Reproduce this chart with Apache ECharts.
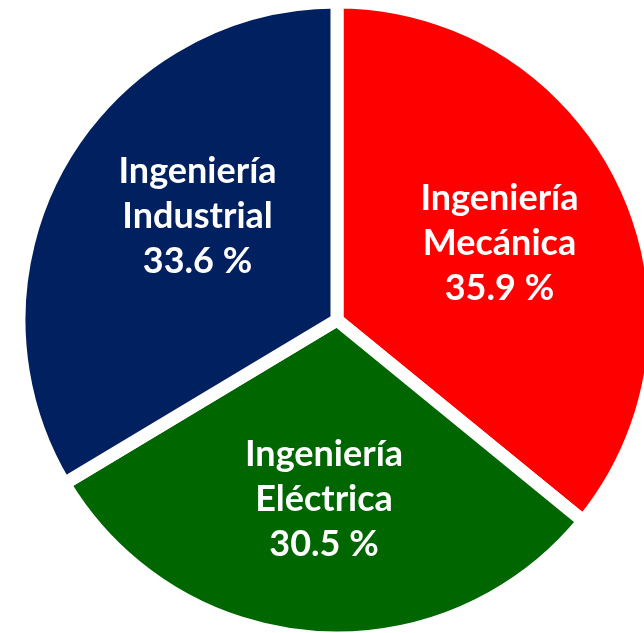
<!DOCTYPE html>
<html>
<head>
<meta charset="utf-8">
<script src="https://cdn.jsdelivr.net/npm/echarts@6/dist/echarts.min.js"></script>
<style>
html,body{margin:0;padding:0;background:#fff;}
#c{width:644px;height:633px;}
</style>
</head>
<body>
<div id="c"></div>
<script>
const categories = ['Ingeniería\nMecánica', 'Ingeniería\nEléctrica', 'Ingeniería\nIndustrial'];
const values = [35.9, 30.5, 33.6];
const colors = ['#FF0000', '#006600', '#002060'];

const CX = 337, CY = 320, R = 318, K = 1.11;

const chart = echarts.init(document.getElementById('c'), null, {renderer: 'canvas'});
chart.setOption({
  backgroundColor: '#ffffff',
  animation: false,
  series: [{
    type: 'pie',
    center: [CX, CY],
    radius: [0, R],
    startAngle: 90,
    clockwise: true,
    avoidLabelOverlap: false,
    itemStyle: {borderColor: '#ffffff', borderWidth: 13},
    label: {
      show: true,
      position: 'inside',
      color: '#ffffff',
      fontFamily: 'Lato',
      fontWeight: 'bold',
      fontSize: 36,
      lineHeight: 45,
      align: 'center',
      formatter: p => p.name + '\n' + p.value.toFixed(1) + ' %'
    },
    labelLayout: function (p) {
      const r = p.labelRect;
      const lx = r.x + r.width / 2, ly = r.y + r.height / 2;
      let x = CX + (lx - CX) * K, y = CY + (ly - CY) * K;
      if (p.dataIndex === 2) { x += 17; y -= 15; }
      return {x: x, y: y};
    },
    emphasis: {disabled: true},
    data: categories.map((c, i) => ({name: c, value: values[i], itemStyle: {color: colors[i]}}))
  }]
});
</script>
</body>
</html>
